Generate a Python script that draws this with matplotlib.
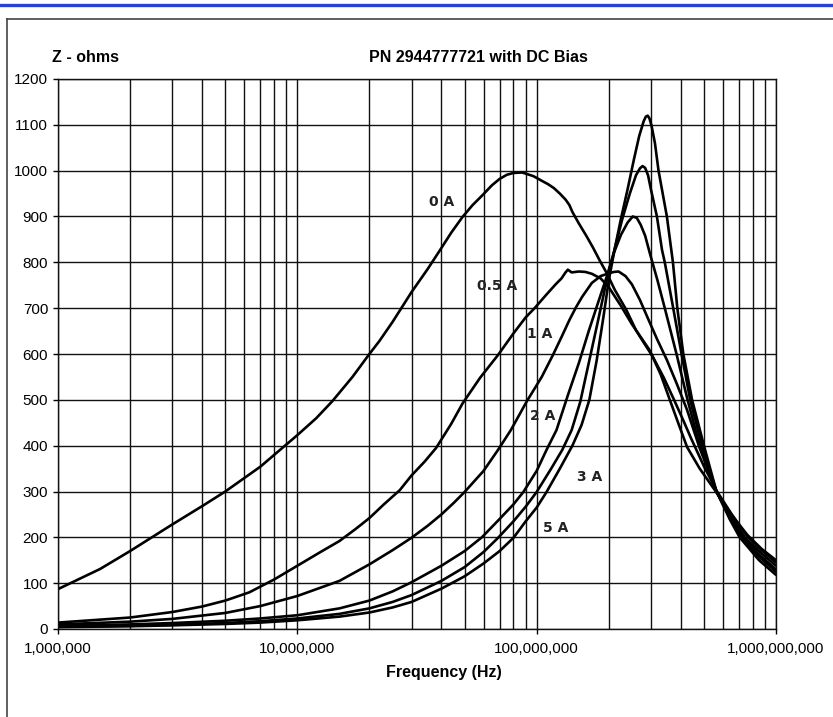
import matplotlib
matplotlib.use("Agg")
import matplotlib.pyplot as plt
from matplotlib.lines import Line2D
from matplotlib.ticker import FixedLocator, FuncFormatter, LogLocator, NullFormatter

# impedance vs frequency, frequencies in MHz, Z in ohms
f_0a = [1, 1.5, 2, 3, 4, 5, 7, 10, 12, 14, 17, 20, 22, 25, 30, 35, 39.5, 44, 49, 54, 59.5,
        65, 70, 75, 80, 87, 97, 105, 112, 118, 125, 132, 137, 141, 150, 162, 172, 183, 196,
        212, 237, 260, 280, 305, 340, 375, 410, 440, 500, 564, 650, 750, 870, 1000]
z_0a = [87, 131, 170, 228, 268, 300, 354, 423, 460, 497, 550, 600, 628, 670, 735, 785, 827,
        865, 899, 925, 947, 968, 982, 991, 995, 996, 988, 978, 970, 962, 950, 937, 925, 910,
        885, 856, 832, 805, 777, 740, 696, 652, 625, 595, 548, 500, 455, 418, 355, 302, 252,
        205, 172, 145]

f_05a = [1, 2, 3, 4, 5, 6.3, 8, 10, 12.5, 15, 17.5, 20, 23, 26.8, 30, 34, 38, 44, 49, 58, 69,
         80, 90, 98, 110, 120, 127, 132, 135, 140, 150, 160, 170, 185, 200, 225, 250, 296,
         330, 360, 390, 425, 480, 564, 650, 760, 870, 1000]
z_05a = [14, 25, 37, 49, 62, 80, 108, 138, 168, 192, 218, 242, 272, 303, 335, 365, 395, 448,
         492, 548, 598, 645, 680, 700, 730, 752, 765, 778, 784, 778, 780, 779, 775, 765, 746,
         705, 665, 609, 555, 500, 450, 397, 350, 298, 250, 205, 175, 150]

f_1a = [1, 2, 3, 5, 7, 10, 15, 20, 25, 30, 35, 40, 45, 50, 60, 69, 78, 91, 105, 117, 127,
        137, 146, 155, 170, 185, 200, 210, 220, 235, 250, 270, 296, 320, 350, 385, 425, 478,
        564, 650, 740, 870, 1000]
z_1a = [10, 16, 22, 35, 50, 72, 105, 141, 172, 199, 225, 250, 275, 299, 345, 391, 434, 497,
        550, 598, 637, 674, 702, 725, 755, 770, 776, 779, 780, 770, 752, 718, 670, 630, 587,
        535, 478, 397, 300, 245, 200, 165, 138]

f_2a = [1, 2, 3, 5, 7, 10, 15, 20, 25, 30, 40, 50, 59, 70, 80, 88, 100, 110, 121, 135, 150,
        165, 180, 196, 210, 225, 240, 252, 262, 272, 284, 297, 320, 343, 384, 427, 480, 564,
        645, 725, 860, 1000]
z_2a = [7, 10, 13, 18, 23, 30, 45, 62, 82, 102, 138, 170, 200, 240, 272, 299, 345, 391, 434,
        510, 580, 650, 710, 768, 820, 860, 887, 900, 897, 882, 858, 820, 760, 700, 600, 500,
        400, 300, 245, 200, 160, 130]

f_3a = [1, 2, 3, 5, 7, 10, 15, 20, 25, 30, 40, 50, 60, 69, 80, 90, 100, 115, 128, 140, 152,
        165, 180, 197, 212, 228, 245, 260, 270, 277, 284, 292, 300, 318, 334, 343, 372, 403,
        438, 490, 564, 640, 715, 860, 1000]
z_3a = [5, 7, 9, 13, 17, 23, 33, 45, 59, 74, 105, 135, 168, 199, 235, 267, 299, 350, 391,
        434, 495, 580, 670, 765, 830, 895, 950, 990, 1005, 1010, 1006, 990, 960, 900, 827,
        800, 700, 600, 500, 400, 300, 245, 200, 155, 125]

f_5a = [1, 2, 3, 5, 7, 10, 15, 20, 25, 30, 40, 50, 60, 70, 80, 90, 100, 110, 125, 141, 154,
        166, 178, 190, 200, 212, 225, 240, 255, 268, 280, 286, 291, 296, 302, 312, 323, 350,
        371, 387, 410, 446, 500, 564, 640, 705, 850, 1000]
z_5a = [4, 6, 8, 11, 14, 19, 27, 36, 47, 59, 88, 115, 143, 170, 199, 235, 265, 299, 350, 400,
        445, 500, 585, 680, 760, 830, 895, 960, 1025, 1075, 1108, 1118, 1120, 1114, 1098,
        1060, 1000, 900, 800, 700, 600, 500, 400, 300, 240, 200, 150, 118]

series = [(f_0a, z_0a), (f_05a, z_05a), (f_1a, z_1a), (f_2a, z_2a), (f_3a, z_3a), (f_5a, z_5a)]

curve_labels = ["0 A", "0.5 A", "1 A", "2 A", "3 A", "5 A"]
label_freq_mhz = [40.1, 68.1, 102.9, 106, 166, 120]
label_z = [932, 748, 644, 465, 332, 220]

y_ticks = list(range(0, 1300, 100))
x_ticks = [1e6, 1e7, 1e8, 1e9]

W, H = 833, 717
fig = plt.figure(figsize=(W / 100, H / 100), dpi=100)
fig.patch.set_facecolor("white")

# frame decoration: blue rule at the top, dark box edge
fig.add_artist(Line2D([0, 1], [1 - 4.5 / H, 1 - 4.5 / H], color="#2a3fd4", lw=2.4))
fig.add_artist(Line2D([7 / W, 1], [1 - 19 / H, 1 - 19 / H], color="#444444", lw=1.2))
fig.add_artist(Line2D([7 / W, 7 / W], [0, 1 - 19 / H], color="#444444", lw=1.2))

ax = fig.add_axes([58 / W, (H - 629) / H, (776 - 58) / W, (629 - 79) / H])

for f, z in series:
    ax.plot([v * 1e6 for v in f], z, color="black", lw=1.9,
            solid_joinstyle="round", solid_capstyle="round")

ax.set_xscale("log")
ax.set_xlim(1e6, 1e9)
ax.set_ylim(0, 1200)

ax.xaxis.set_major_locator(FixedLocator(x_ticks))
ax.xaxis.set_minor_locator(LogLocator(base=10, subs=range(2, 10)))
ax.xaxis.set_minor_formatter(NullFormatter())
ax.xaxis.set_major_formatter(FuncFormatter(lambda v, p: f"{v:,.0f}"))
ax.yaxis.set_major_locator(FixedLocator(y_ticks))

ax.grid(True, which="both", axis="x", color="#111111", lw=1.0)
ax.grid(True, which="major", axis="y", color="#111111", lw=1.0)
ax.set_axisbelow(True)

ax.tick_params(axis="both", which="major", direction="out", length=3.6, width=1.0,
               labelsize=11, colors="black")
ax.tick_params(axis="x", which="major", pad=5.5)
ax.tick_params(axis="y", which="major", pad=3.5)
ax.tick_params(axis="x", which="minor", length=0)
for lab in ax.get_xticklabels() + ax.get_yticklabels():
    lab.set_fontfamily("Liberation Sans")

for s in ax.spines.values():
    s.set_color("#111111")
    s.set_linewidth(1.0)

for text, fm, zv in zip(curve_labels, label_freq_mhz, label_z):
    ax.text(fm * 1e6, zv, text, ha="center", va="center", fontsize=10,
            fontweight="bold", color="#222222", family="DejaVu Sans")

fig.text(478 / W, 1 - 57 / H, "PN 2944777721 with DC Bias", ha="center", va="center",
         fontsize=11.5, fontweight="bold", family="Liberation Sans")
fig.text(85 / W, 1 - 58 / H, "Z - ohms", ha="center", va="center",
         fontsize=11.5, fontweight="bold", family="Liberation Sans")
fig.text(444 / W, 1 - 672 / H, "Frequency (Hz)", ha="center", va="center",
         fontsize=11.5, fontweight="bold", family="Liberation Sans")

fig.savefig("out.png", dpi=100)
